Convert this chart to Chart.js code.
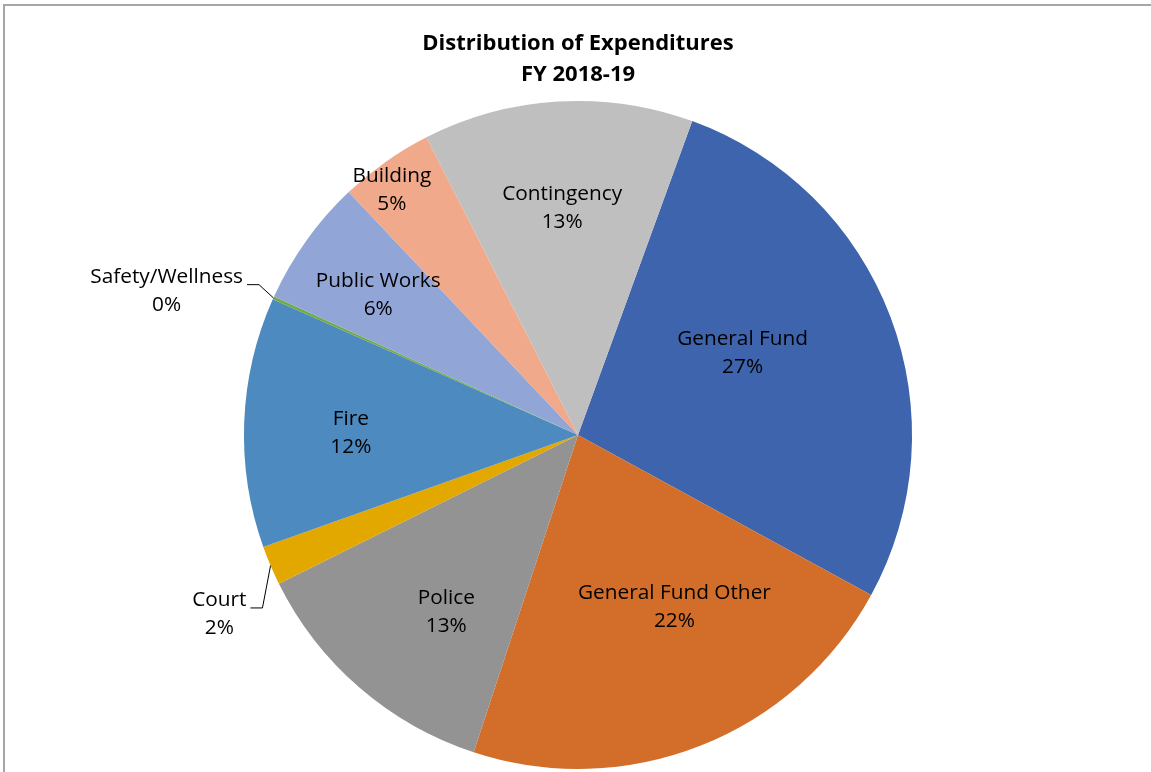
<!DOCTYPE html>
<html>
<head>
<meta charset="utf-8">
<script src="https://cdn.jsdelivr.net/npm/chart.js@4.4.1/dist/chart.umd.min.js"></script>
<style>
    html, body { margin: 0; padding: 0; background: #fff; }
</style>
</head>
<body>
<canvas id="myChart" width="1151" height="772"></canvas>
<script>
// slices, clockwise from the first one (share of total, %)
const categories = ["General Fund", "General Fund Other", "Police", "Court", "Fire", "Safety/Wellness", "Public Works", "Building", "Contingency"];
const shares = [27.4, 22.1, 12.6, 1.9, 12.1, 0.15, 6.15, 4.55, 13.05];
const sliceColors = ["#3e64ad", "#d26e2a", "#939393", "#e2a800", "#4c8abf", "#6fac46", "#91a5d6", "#f0a98a", "#bfbfbf"];
const titleLines = ["Distribution of Expenditures", "FY 2018-19"];

// where each label sits: fraction of radius, and turn (degrees) off the slice middle
const labelDist = [0.55, 0.59, 0.66, 1.2, 0.68, 1.305, 0.73, 0.92, 0.68];
const labelTurn = [-5.7, -7.7, -4.2, -3.5, -1.7, -4.9, -0.6, -2.1, -0.5];

const fontFamily = "'Open Sans', Lato, sans-serif";
const labelFont = "20.8px " + fontFamily;
const lineGap = 28;

const frame = {
    id: 'frame',
    beforeDraw(chart) {
        const ctx = chart.ctx;
        ctx.save();
        ctx.strokeStyle = '#a6a6a6';
        ctx.lineWidth = 2;
        ctx.beginPath();
        ctx.moveTo(4, chart.height);
        ctx.lineTo(4, 5);
        ctx.lineTo(chart.width, 5);
        ctx.stroke();
        ctx.restore();
    }
};

const sliceLabels = {
    id: 'sliceLabels',
    afterDatasetsDraw(chart) {
        const ctx = chart.ctx;
        const meta = chart.getDatasetMeta(0);
        const total = shares.reduce((a, b) => a + b, 0);
        ctx.save();
        ctx.font = labelFont;
        ctx.fillStyle = '#000';
        ctx.textAlign = 'center';
        ctx.textBaseline = 'middle';
        meta.data.forEach(function (arc, i) {
            const p = arc.getProps(['x', 'y', 'startAngle', 'endAngle', 'outerRadius'], true);
            const mid = (p.startAngle + p.endAngle) / 2;
            const ang = mid + labelTurn[i] * Math.PI / 180;
            const r = p.outerRadius * labelDist[i];
            const cx = p.x + Math.cos(ang) * r;
            const cy = p.y + Math.sin(ang) * r;
            const pct = Math.round(shares[i] / total * 100) + '%';
            ctx.fillText(categories[i], cx, cy - lineGap / 2);
            ctx.fillText(pct, cx, cy + lineGap / 2);

            if (labelDist[i] > 1) {
                // leader line from label to the slice edge
                const right = cx + ctx.measureText(categories[i]).width / 2;
                const ly = cy - lineGap / 2 + 8;
                const ex = p.x + Math.cos(mid) * p.outerRadius;
                const ey = p.y + Math.sin(mid) * p.outerRadius;
                ctx.strokeStyle = '#000';
                ctx.lineWidth = 1;
                ctx.beginPath();
                ctx.moveTo(right + 4, ly);
                ctx.lineTo(right + 16, ly);
                ctx.lineTo(ex, ey);
                ctx.stroke();
            }
        });
        ctx.restore();
    }
};

const data = {
    labels: categories,
    datasets: [{
        data: shares,
        backgroundColor: sliceColors,
        borderWidth: 0
    }]
};

const config = {
    type: 'pie',
    data: data,
    options: {
        responsive: false,
        animation: false,
        events: [],
        rotation: 20,
        layout: {
            padding: { left: 5, right: 0, top: 0, bottom: 3 }
        },
        plugins: {
            legend: { display: false },
            tooltip: { enabled: false },
            title: {
                display: true,
                text: titleLines,
                color: '#000',
                font: { family: fontFamily, size: 22, weight: 'bold', lineHeight: 1.43 },
                padding: { top: 28, bottom: 10 }
            }
        }
    },
    plugins: [frame, sliceLabels]
};

const myChart = new Chart(
    document.getElementById('myChart'),
    config
);
</script>
</body>
</html>
